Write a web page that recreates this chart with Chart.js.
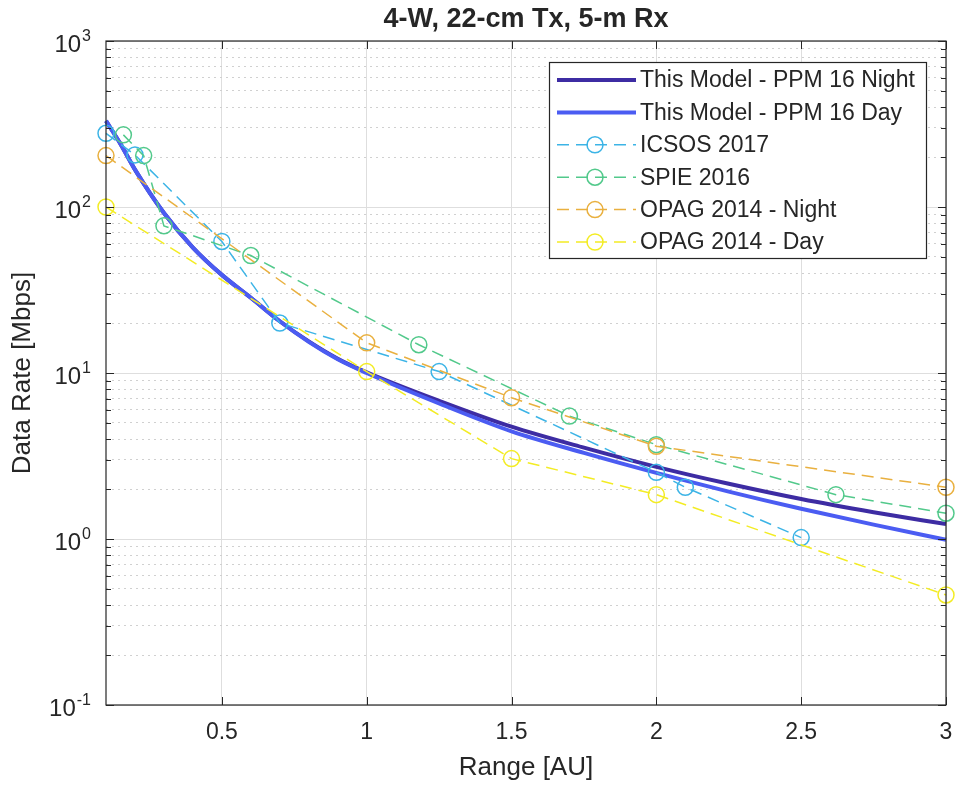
<!DOCTYPE html>
<html>
<head>
<meta charset="utf-8">
<script src="https://cdn.jsdelivr.net/npm/chart.js@4.4.1/dist/chart.umd.min.js"></script>
<style>
  html, body { margin: 0; padding: 0; background: #fff; }
  #wrap { width: 956px; height: 788px; }
</style>
</head>
<body>
<div id="wrap"><canvas id="chart" width="956" height="788"></canvas></div>
<script>
// Model curves (Range in AU, data rate in Mbps)
const modelRange = [0.1, 0.15, 0.2, 0.3, 0.4, 0.5, 0.6, 0.7, 0.8, 0.9, 1.0, 1.25, 1.5, 1.75, 2.0, 2.25, 2.5, 2.75, 3.0];
const modelNight = [330, 240, 168, 92, 57, 39, 28.4, 20.5, 15.5, 12.2, 10.1, 6.8, 4.75, 3.55, 2.72, 2.15, 1.74, 1.45, 1.23];
const modelDay = [330, 240, 168, 92, 57, 39, 28.4, 20.5, 15.4, 12.1, 10.0, 6.55, 4.45, 3.3, 2.5, 1.93, 1.52, 1.22, 0.99];

// Published points
const icsosRange = [0.1, 0.2, 0.5, 0.7, 1.25, 2.0, 2.1, 2.5];
const icsosRate = [278, 206, 62, 20, 10.2, 2.52, 2.05, 1.02];
const spieRange = [0.16, 0.23, 0.3, 0.6, 1.18, 1.7, 2.0, 2.62, 3.0];
const spieRate = [272, 204, 77, 51, 14.8, 5.5, 3.7, 1.85, 1.43];
const opagNightRange = [0.1, 1.0, 1.5, 2.0, 3.0];
const opagNightRate = [204, 15.2, 7.1, 3.62, 2.05];
const opagDayRange = [0.1, 1.0, 1.5, 2.0, 3.0];
const opagDayRate = [100, 10.2, 3.05, 1.85, 0.46];

const xTicks = [0.5, 1, 1.5, 2, 2.5, 3];
const yDecades = [-1, 0, 1, 2, 3];

const FONT = '"Liberation Sans", Arial, Helvetica, sans-serif';
const TXT = '#262626';

function toPoints(xs, ys) {
  return xs.map((x, i) => ({ x: x, y: ys[i] }));
}

function buildLogTicks() {
  const ticks = [];
  yDecades.forEach(e => {
    if (e === yDecades[yDecades.length - 1]) {
      ticks.push({ value: Math.pow(10, e), major: true });
      return;
    }
    for (let k = 1; k <= 9; k++) {
      ticks.push({ value: k * Math.pow(10, e), major: k === 1 });
    }
  });
  return ticks;
}

function isDecade(v) {
  const l = Math.log10(v);
  return Math.abs(l - Math.round(l)) < 1e-6;
}

function modelSet(label, data, color) {
  return {
    label: label,
    data: data,
    borderColor: color,
    backgroundColor: color,
    borderWidth: 4,
    pointRadius: 0,
    cubicInterpolationMode: 'monotone',
    clip: false
  };
}

function paperSet(label, data, color) {
  return {
    label: label,
    data: data,
    borderColor: color,
    backgroundColor: 'rgba(0,0,0,0)',
    borderWidth: 1.5,
    borderDash: [12, 7],
    pointRadius: 8,
    pointBorderWidth: 1.5,
    pointBorderColor: color,
    pointBackgroundColor: 'rgba(0,0,0,0)',
    tension: 0,
    clip: false
  };
}

// Draws box, inward ticks, tick labels, titles and the legend (MATLAB look)
const matlabAxes = {
  id: 'matlabAxes',
  afterDraw(chart) {
    const ctx = chart.ctx;
    const a = chart.chartArea;
    const xs = chart.scales.x;
    const ys = chart.scales.y;

    ctx.save();
    // box
    ctx.strokeStyle = TXT;
    ctx.lineWidth = 1.2;
    ctx.strokeRect(a.left, a.top, a.right - a.left, a.bottom - a.top);

    // x ticks (bottom and top, inward)
    ctx.lineWidth = 1;
    xTicks.forEach(v => {
      const px = Math.round(xs.getPixelForValue(v)) + 0.5;
      ctx.beginPath();
      ctx.moveTo(px, a.bottom); ctx.lineTo(px, a.bottom - 8);
      ctx.moveTo(px, a.top); ctx.lineTo(px, a.top + 8);
      ctx.stroke();
    });
    // y ticks (left and right, inward)
    buildLogTicks().forEach(t => {
      const py = Math.round(ys.getPixelForValue(t.value)) + 0.5;
      const len = t.major ? 8 : 5;
      ctx.beginPath();
      ctx.moveTo(a.left, py); ctx.lineTo(a.left + len, py);
      ctx.moveTo(a.right, py); ctx.lineTo(a.right - len, py);
      ctx.stroke();
    });

    ctx.fillStyle = TXT;
    // x tick labels
    ctx.font = '23px ' + FONT;
    ctx.textAlign = 'center';
    ctx.textBaseline = 'middle';
    xTicks.forEach(v => {
      ctx.fillText(String(v), xs.getPixelForValue(v), a.bottom + 28);
    });

    // y tick labels 10^n
    yDecades.forEach(e => {
      const py = ys.getPixelForValue(Math.pow(10, e));
      const expText = String(e);
      ctx.font = '16px ' + FONT;
      const expW = ctx.measureText(expText).width;
      const expLeft = a.left - 15 - expW;
      ctx.textAlign = 'left';
      ctx.fillText(expText, expLeft, py - 4);
      ctx.font = '24px ' + FONT;
      ctx.textAlign = 'right';
      ctx.fillText('10', expLeft - 1, py + 4);
    });

    // axis titles
    ctx.font = '26px ' + FONT;
    ctx.textAlign = 'center';
    ctx.fillText('Range [AU]', (a.left + a.right) / 2, a.bottom + 63);
    ctx.save();
    ctx.translate(23, (a.top + a.bottom) / 2);
    ctx.rotate(-Math.PI / 2);
    ctx.fillText('Data Rate [Mbps]', 0, 0);
    ctx.restore();

    // title
    ctx.font = 'bold 27px ' + FONT;
    ctx.fillText('4-W, 22-cm Tx, 5-m Rx', (a.left + a.right) / 2, 20);

    // legend
    const lx = 549, ly = 62, lw = 377, lh = 196;
    ctx.fillStyle = '#ffffff';
    ctx.fillRect(lx, ly, lw, lh);
    ctx.strokeStyle = TXT;
    ctx.lineWidth = 1.2;
    ctx.strokeRect(lx + 0.5, ly + 0.5, lw, lh);
    chart.data.datasets.forEach((ds, i) => {
      const cy = ly + 18 + i * 32.4;
      ctx.strokeStyle = ds.borderColor;
      ctx.lineWidth = ds.borderWidth;
      ctx.setLineDash(ds.borderDash || []);
      ctx.beginPath();
      ctx.moveTo(557, cy);
      ctx.lineTo(636, cy);
      ctx.stroke();
      ctx.setLineDash([]);
      if (ds.pointRadius > 0) {
        ctx.lineWidth = ds.pointBorderWidth;
        ctx.beginPath();
        ctx.arc(595, cy, ds.pointRadius, 0, Math.PI * 2);
        ctx.stroke();
      }
      ctx.fillStyle = TXT;
      ctx.font = '23px ' + FONT;
      ctx.textAlign = 'left';
      ctx.textBaseline = 'middle';
      ctx.fillText(ds.label, 640, cy + 1);
    });
    ctx.restore();
  }
};

const datasets = [
  modelSet('This Model - PPM 16 Night', toPoints(modelRange, modelNight), '#3d2ca3'),
  modelSet('This Model - PPM 16 Day', toPoints(modelRange, modelDay), '#4b5cf2'),
  paperSet('ICSOS 2017', toPoints(icsosRange, icsosRate), '#3cb4e6'),
  paperSet('SPIE 2016', toPoints(spieRange, spieRate), '#52c98b'),
  paperSet('OPAG 2014 - Night', toPoints(opagNightRange, opagNightRate), '#e9b03f'),
  paperSet('OPAG 2014 - Day', toPoints(opagDayRange, opagDayRate), '#f3ec24')
];
// later series on top, like the original plot
datasets.forEach((ds, i) => { ds.order = datasets.length - i; });

new Chart(document.getElementById('chart').getContext('2d'), {
  type: 'line',
  data: { datasets: datasets },
  options: {
    responsive: false,
    animation: false,
    parsing: true,
    layout: { padding: { left: 106, right: 10, top: 41, bottom: 83 } },
    plugins: {
      legend: { display: false },
      title: { display: false },
      tooltip: { enabled: false }
    },
    scales: {
      x: {
        type: 'linear',
        min: 0.1,
        max: 3,
        afterBuildTicks: scale => { scale.ticks = xTicks.map(v => ({ value: v })); },
        ticks: { display: false },
        grid: { color: '#dedede', lineWidth: 1, drawTicks: false },
        border: { display: false }
      },
      y: {
        type: 'logarithmic',
        min: 0.1,
        max: 1000,
        afterBuildTicks: scale => { scale.ticks = buildLogTicks(); },
        ticks: { display: false },
        grid: {
          drawTicks: false,
          lineWidth: 1,
          color: c => (c.tick && !isDecade(c.tick.value)) ? '#d0d0d0' : '#dedede'
        },
        border: {
          display: false,
          dash: c => (c.tick && !isDecade(c.tick.value)) ? [2, 4] : []
        }
      }
    }
  },
  plugins: [matlabAxes]
});
</script>
</body>
</html>
